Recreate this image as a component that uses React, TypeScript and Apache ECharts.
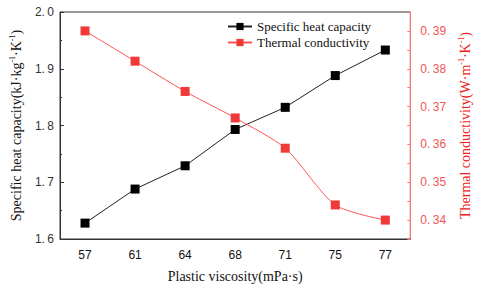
import React, { useEffect, useRef } from "react";
import * as echarts from "echarts";

const categories = ["57", "61", "64", "68", "71", "75", "77"];
const heatCapacity = [1.628, 1.688, 1.729, 1.793, 1.832, 1.888, 1.933];
const conductivity = [0.39, 0.382, 0.374, 0.367, 0.359, 0.344, 0.34];

const serif = "Liberation Serif";
const sans = "Liberation Sans";

export default function App() {
  const ref = useRef<HTMLDivElement>(null);
  useEffect(() => {
    const chart = echarts.init(ref.current!, null, { renderer: "svg" });
    const dotFmt = (v: number, d: number) => v.toFixed(d).replace(".", ".\u2009");
    chart.setOption({
      animation: false,
      backgroundColor: "#fff",
      grid: {
        left: 53,
        right: 57,
        top: 12,
        bottom: 45,
        show: true,
        borderColor: "#333",
        borderWidth: 1,
      },
      legend: {
        left: 222,
        top: 15,
        orient: "vertical",
        itemGap: 3,
        itemWidth: 24,
        itemHeight: 9,
        textStyle: { fontFamily: serif, fontSize: 13, color: "#111" },
        data: ["Specific heat capacity", "Thermal conductivity"],
      },
      xAxis: [
        {
          type: "category",
          data: categories,
          boundaryGap: true,
          name: "Plastic viscosity(mPa·s)",
          nameLocation: "middle",
          nameGap: 30,
          nameTextStyle: { fontFamily: serif, fontSize: 14, color: "#111" },
          axisLine: { lineStyle: { color: "#333", width: 1 } },
          axisTick: { inside: true, alignWithLabel: true, length: 4, lineStyle: { color: "#333" } },
          axisLabel: { fontFamily: sans, fontSize: 12, color: "#111", margin: 10 },
        },
        {
          type: "category",
          data: categories,
          boundaryGap: true,
          position: "bottom",
          axisLine: { show: false },
          axisTick: { inside: true, length: 2, lineStyle: { color: "#333" } },
          axisLabel: { show: false },
        },
      ],
      yAxis: [
        {
          type: "value",
          min: 1.6,
          max: 2.0,
          interval: 0.1,
          name: "Specific heat capacity(kJ·kg{sup|-1}·K{sup|-1})",
          nameLocation: "middle",
          nameGap: 36,
          nameRotate: 90,
          nameTextStyle: {
            fontFamily: serif,
            fontSize: 14,
            color: "#111",
            rich: {
              sup: { fontFamily: serif, fontSize: 8, color: "#111", verticalAlign: "top", lineHeight: 16 },
            },
          },
          splitLine: { show: false },
          axisLine: { show: true, lineStyle: { color: "#333" } },
          axisTick: { show: true, inside: true, length: 4, lineStyle: { color: "#333" } },
          minorTick: { show: true, splitNumber: 2, length: 2, lineStyle: { color: "#333" } },
          axisLabel: {
            fontFamily: sans,
            fontSize: 12,
            color: "#333",
            margin: 6,
            formatter: (v: number) => dotFmt(v, 1),
          },
        },
        {
          type: "value",
          min: 0.335,
          max: 0.395,
          interval: 0.005,
          position: "right",
          name: "Thermal conductivity(W·m{sup|-1}·K{sup|-1})",
          nameLocation: "middle",
          nameGap: 40,
          nameRotate: 90,
          nameTextStyle: {
            fontFamily: serif,
            fontSize: 14,
            color: "#f02020",
            rich: {
              sup: { fontFamily: serif, fontSize: 8, color: "#f02020", verticalAlign: "top", lineHeight: 16 },
            },
          },
          splitLine: { show: false },
          axisLine: { show: true, lineStyle: { color: "#f77", width: 1 } },
          axisTick: { show: true, inside: true, length: 3, lineStyle: { color: "#f77" } },
          axisLabel: {
            fontFamily: sans,
            fontSize: 12,
            color: "#f25555",
            margin: 10,
            formatter: (v: number) =>
              Math.round(v * 1000) % 10 === 0 ? dotFmt(v, 2) : "",
          },
        },
      ],
      series: [
        {
          name: "Specific heat capacity",
          type: "line",
          xAxisIndex: 0,
          yAxisIndex: 0,
          data: heatCapacity,
          symbol: "rect",
          symbolSize: 9,
          itemStyle: { color: "#000" },
          lineStyle: { color: "#222", width: 1 },
        },
        {
          name: "Thermal conductivity",
          type: "line",
          xAxisIndex: 0,
          yAxisIndex: 1,
          data: conductivity,
          smooth: 0.25,
          symbol: "rect",
          symbolSize: 9,
          itemStyle: { color: "#f03a3a" },
          lineStyle: { color: "#f55", width: 1 },
        },
      ],
    });
    return () => chart.dispose();
  }, []);
  return <div ref={ref} style={{ width: 480, height: 288, position: "absolute", left: 0, top: 0 }} />;
}
